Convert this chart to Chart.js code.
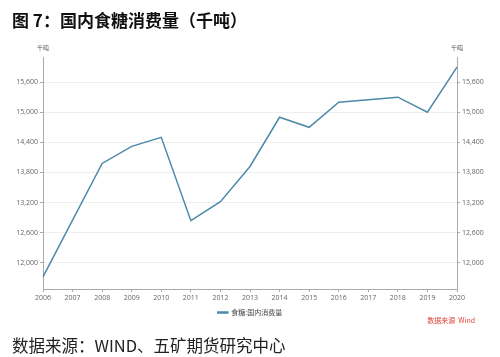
<!DOCTYPE html>
<html>
<head>
<meta charset="utf-8">
<script src="https://cdn.jsdelivr.net/npm/chart.js@4"></script>
<style>
  html, body { margin: 0; padding: 0; background: #fff; }
  #wrap { position: relative; width: 500px; height: 357px; overflow: hidden; }
  #title { position: absolute; left: 12px; top: 7px; font: bold 17px "Noto Sans CJK SC", sans-serif; color: #111; white-space: nowrap; }
  #foot { position: absolute; left: 12px; top: 333px; font: 16.5px "Noto Sans CJK SC", sans-serif; color: #222; white-space: nowrap; }
  #src { position: absolute; right: 25px; top: 315px; font: 7px "Noto Sans CJK SC", sans-serif; color: #e0453a; white-space: nowrap; }
  #c { position: absolute; left: 0; top: 0; }
</style>
</head>
<body>
<div id="wrap">
  <canvas id="c" width="500" height="357"></canvas>
  <div id="title">图 7：国内食糖消费量（千吨）</div>
  <div id="src">数据来源&nbsp;&nbsp;Wind</div>
  <div id="foot">数据来源：WIND、五矿期货研究中心</div>
</div>
<script>
// values
const years = ['2006', '2007', '2008', '2009', '2010', '2011', '2012', '2013', '2014', '2015', '2016', '2017', '2018', '2019', '2020'];
const consumption = [11720, 12850, 13980, 14320, 14500, 12840, 13220, 13920, 14900, 14700, 15200, 15250, 15300, 15000, 15900];
const yTicks = [12000, 12600, 13200, 13800, 14400, 15000, 15600];
const seriesName = '食糖:国内消费量';
const unitLabel = '千吨';

const tickFont = { family: 'Open Sans', size: 7 };

// draws the unit label on top of both y axes
const unitPlugin = {
    id: 'unitLabels',
    afterDraw(chart) {
        const ctx = chart.ctx;
        const top = chart.chartArea.top;
        ctx.save();
        ctx.font = '6px "Noto Sans CJK SC"';
        ctx.fillStyle = '#555';
        ctx.textAlign = 'center';
        ctx.textBaseline = 'middle';
        ctx.fillText(unitLabel, chart.scales.y.right, top - 9);
        ctx.fillText(unitLabel, chart.scales.y2.left, top - 9);
        ctx.restore();
    }
};

const yAxis = (position, onChart) => ({
    type: 'linear',
    position: position,
    min: 11480,
    max: 16100,
    afterBuildTicks: (scale) => {
        scale.ticks = yTicks.map((v) => ({ value: v }));
    },
    afterFit: (scale) => { scale.width = 43; },
    border: { color: '#aaa' },
    grid: { drawOnChartArea: onChart, color: '#eee', tickColor: '#aaa', tickLength: 3 },
    ticks: {
        font: tickFont,
        color: '#666',
        padding: 2,
        callback: (v) => v.toLocaleString('en-US')
    }
});

new Chart(document.getElementById('c'), {
    type: 'line',
    data: {
        labels: years,
        datasets: [{
            label: seriesName,
            data: consumption,
            borderColor: '#4d89a8',
            backgroundColor: '#4d89a8',
            borderWidth: 1.5,
            pointRadius: 0,
            tension: 0,
            yAxisID: 'y'
        }, {
            label: seriesName,
            data: consumption,
            borderWidth: 0,
            pointRadius: 0,
            yAxisID: 'y2',
            showLine: false
        }]
    },
    options: {
        responsive: false,
        animation: false,
        layout: { padding: { top: 57, bottom: 31, left: 0, right: 0 } },
        plugins: {
            legend: {
                position: 'bottom',
                labels: {
                    font: { family: 'Noto Sans CJK SC', size: 7 },
                    color: '#444',
                    boxWidth: 10,
                    boxHeight: 1,
                    padding: 4,
                    filter: (item) => item.datasetIndex === 0
                }
            },
            tooltip: { enabled: false }
        },
        scales: {
            x: {
                offset: false,
                afterFit: (scale) => { scale.height = 16; },
                border: { color: '#aaa' },
                grid: { drawOnChartArea: false, tickColor: '#aaa', tickLength: 3 },
                ticks: { font: tickFont, color: '#666', padding: 2, maxRotation: 0, autoSkip: false }
            },
            y: yAxis('left', true),
            y2: yAxis('right', false)
        }
    },
    plugins: [unitPlugin]
});
</script>
</body>
</html>
